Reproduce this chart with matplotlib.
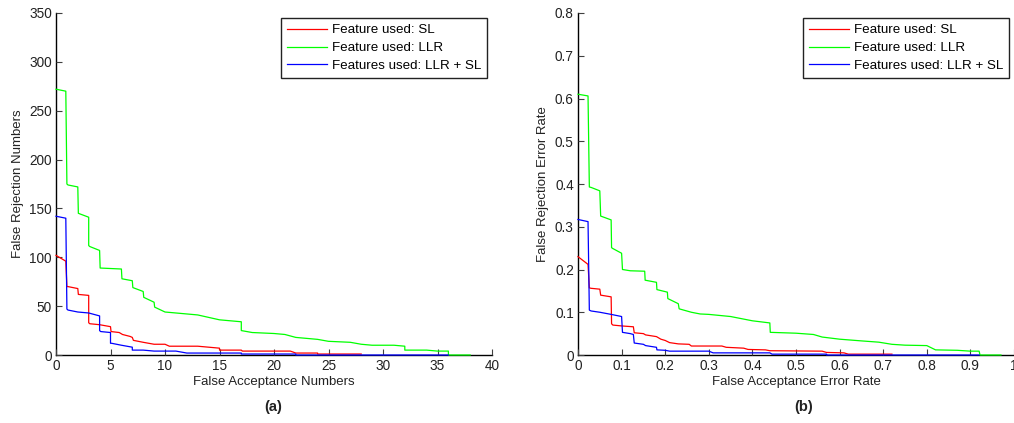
import matplotlib
matplotlib.use("Agg")
import matplotlib.pyplot as plt

plt.rcParams['font.family'] = ['Liberation Sans', 'DejaVu Sans']

labels = ["Feature used: SL", "Feature used: LLR", "Features used: LLR + SL"]
colors = ["#ff0000", "#00ff00", "#0000ff"]

# ---- (a) counts ----
a_sl_x = [0, 0.9, 1, 1.1, 2, 2.05, 3, 3, 3.1, 4, 4.5, 5, 5.05, 5.8, 6.1, 6.8, 7, 7.1, 8, 8.5, 9, 10, 10.4, 13, 14, 15, 15, 17, 17.1, 21.5, 22, 24, 24, 28]
a_sl_y = [102, 96, 70, 70, 68, 62, 61, 33, 32, 31, 30, 29, 24, 23, 21, 19, 18, 15, 13, 12, 11, 11, 9, 9, 8, 7, 5, 5, 4, 4, 2, 2, 1, 1]

a_llr_x = [0, 0.9, 1, 1.1, 2, 2.05, 3, 3, 3.1, 4, 4.05, 6, 6.05, 7, 7.05, 8, 8.05, 9, 9.05, 10, 11, 13, 15, 17, 17, 18, 20, 21, 22, 24, 25, 27, 28, 29, 31, 32, 32, 34, 35, 36, 36, 38]
a_llr_y = [272, 270, 175, 174, 172, 145, 141, 112, 111, 107, 89, 88, 78, 76, 69, 65, 59, 54, 49, 44, 43, 41, 36, 34, 25, 23, 22, 21, 18, 16, 14, 13, 11, 10, 10, 9, 5, 5, 4, 4, 0, 0]

a_ll_x = [0, 0.9, 1, 1.1, 2, 3, 4, 4, 4.1, 5, 5, 5.1, 6, 7, 7, 8, 9, 11, 12, 17, 17, 22, 22, 36]
a_ll_y = [142, 140, 47, 46, 44, 43, 40, 25, 24, 23, 12, 12, 10, 8, 5, 5, 4, 4, 2, 2, 1, 1, 0, 0]

# ---- (b) rates ----
b_sl_x = [0, 0.023, 0.026, 0.03, 0.05, 0.052, 0.076, 0.077, 0.08, 0.1, 0.127, 0.129, 0.15, 0.155, 0.18, 0.19, 0.2, 0.21, 0.23, 0.255, 0.26, 0.33, 0.34, 0.38, 0.39, 0.43, 0.44, 0.56, 0.57, 0.61, 0.62, 0.72]
b_sl_y = [0.230, 0.212, 0.157, 0.156, 0.154, 0.140, 0.136, 0.073, 0.070, 0.068, 0.066, 0.052, 0.050, 0.047, 0.043, 0.037, 0.034, 0.029, 0.026, 0.025, 0.021, 0.021, 0.018, 0.016, 0.013, 0.012, 0.010, 0.009, 0.006, 0.005, 0.002, 0.002]

b_llr_x = [0, 0.023, 0.026, 0.03, 0.05, 0.052, 0.076, 0.077, 0.08, 0.1, 0.102, 0.12, 0.153, 0.154, 0.18, 0.181, 0.205, 0.206, 0.23, 0.232, 0.26, 0.28, 0.3, 0.35, 0.4, 0.44, 0.441, 0.5, 0.54, 0.56, 0.6, 0.65, 0.69, 0.72, 0.75, 0.8, 0.82, 0.87, 0.9, 0.92, 0.922, 0.97]
b_llr_y = [0.610, 0.606, 0.393, 0.392, 0.384, 0.325, 0.316, 0.251, 0.249, 0.238, 0.200, 0.197, 0.196, 0.175, 0.170, 0.153, 0.147, 0.132, 0.120, 0.108, 0.100, 0.096, 0.095, 0.090, 0.080, 0.075, 0.053, 0.051, 0.048, 0.042, 0.037, 0.033, 0.030, 0.025, 0.023, 0.022, 0.012, 0.011, 0.009, 0.009, 0.0, 0.0]

b_ll_x = [0, 0.023, 0.026, 0.03, 0.05, 0.076, 0.1, 0.102, 0.12, 0.127, 0.129, 0.15, 0.155, 0.18, 0.181, 0.2, 0.21, 0.3, 0.31, 0.44, 0.445, 0.57, 0.57, 0.92]
b_ll_y = [0.317, 0.312, 0.105, 0.103, 0.100, 0.095, 0.090, 0.053, 0.050, 0.048, 0.028, 0.025, 0.022, 0.018, 0.012, 0.011, 0.009, 0.009, 0.005, 0.005, 0.002, 0.002, 0.0, 0.0]

fig = plt.figure(figsize=(10.14, 4.23), dpi=100)
W, H = 1014, 423
axA = fig.add_axes([56 / W, (H - 355) / H, 436 / W, 342 / H])
axB = fig.add_axes([578 / W, (H - 355) / H, 436 / W, 342 / H])

def style(ax, xlim, ylim, xticks, yticks, xticklabels, yticklabels, xlabel, ylabel):
    for s in ["top", "right"]:
        ax.spines[s].set_visible(False)
    for s in ["left", "bottom"]:
        ax.spines[s].set_linewidth(1.0)
        ax.spines[s].set_zorder(1)
    ax.set_xlim(*xlim)
    ax.set_ylim(*ylim)
    ax.set_xticks(xticks)
    ax.set_yticks(yticks)
    ax.set_xticklabels(xticklabels)
    ax.set_yticklabels(yticklabels)
    ax.tick_params(direction="in", length=4, width=0.8, color="#404040",
                   labelsize=9.8, labelcolor="#222222", pad=3)
    ax.set_xlabel(xlabel, fontsize=9.5, color="#222222", labelpad=2)
    ax.set_ylabel(ylabel, fontsize=9.5, color="#222222", labelpad=4)

series_a = [(a_sl_x, a_sl_y), (a_llr_x, a_llr_y), (a_ll_x, a_ll_y)]
series_b = [(b_sl_x, b_sl_y), (b_llr_x, b_llr_y), (b_ll_x, b_ll_y)]

for ax, series in [(axA, series_a), (axB, series_b)]:
    for (x, y), c, lab in zip(series, colors, labels):
        ax.plot(x, y, color=c, lw=0.9, label=lab, zorder=3, clip_on=False)
    leg = ax.legend(loc="upper right", bbox_to_anchor=(1.0, 1.0), borderaxespad=0.4,
                    fontsize=9.6, handlelength=3.0, handletextpad=0.38, labelspacing=0.42,
                    fancybox=False, framealpha=1, edgecolor="#222222", borderpad=0.42)
    leg.get_frame().set_linewidth(1.0)

xa = [0, 5, 10, 15, 20, 25, 30, 35, 40]
ya = [0, 50, 100, 150, 200, 250, 300, 350]
style(axA, (0, 40), (0, 350), xa, ya, [str(v) for v in xa], [str(v) for v in ya],
      "False Acceptance Numbers", "False Rejection Numbers")

xb = [0, 0.1, 0.2, 0.3, 0.4, 0.5, 0.6, 0.7, 0.8, 0.9, 1.0]
yb = [0, 0.1, 0.2, 0.3, 0.4, 0.5, 0.6, 0.7, 0.8]
style(axB, (0, 1), (0, 0.8), xb, yb,
      ["0", "0.1", "0.2", "0.3", "0.4", "0.5", "0.6", "0.7", "0.8", "0.9", "1"],
      ["0", "0.1", "0.2", "0.3", "0.4", "0.5", "0.6", "0.7", "0.8"],
      "False Acceptance Error Rate", "False Rejection Error Rate")

fig.text(273 / W, 1 - 407 / H, "(a)", ha="center", va="center", fontsize=10.5, fontweight="bold", color="#222222")
fig.text(804 / W, 1 - 407 / H, "(b)", ha="center", va="center", fontsize=10.5, fontweight="bold", color="#222222")

fig.savefig("out.png", dpi=100)
